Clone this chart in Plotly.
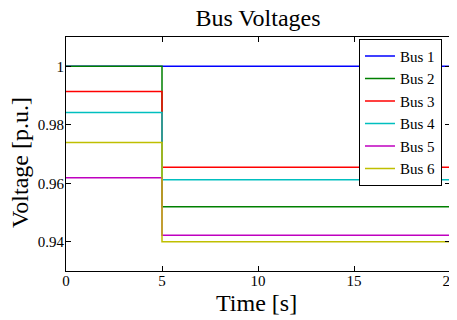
import plotly.graph_objects as go

time = [0, 5, 20]
bus_names = ["Bus 1", "Bus 2", "Bus 3", "Bus 4", "Bus 5", "Bus 6"]
v_before = [1.0, 1.0, 0.9914, 0.9842, 0.9619, 0.9739]
v_after = [1.0, 0.952, 0.9655, 0.9612, 0.9422, 0.940]
colors = ["#0000ff", "#008000", "#ff0000", "#00bfbf", "#bf00bf", "#bfbf00"]

FONT = "Liberation Serif"

fig = go.Figure()
for name, vb, va, c in zip(bus_names, v_before, v_after, colors):
    fig.add_trace(go.Scatter(
        x=time, y=[vb, va, va], mode="lines", name=name,
        line=dict(color=c, width=1.5, shape="hv"),
    ))

axis_common = dict(
    showline=True, linecolor="black", linewidth=1, mirror="ticks",
    ticks="inside", ticklen=5, tickcolor="black", showgrid=False,
    zeroline=False, automargin=False, ticklabeloverflow="allow",
    tickfont=dict(family=FONT, size=15, color="black"),
)
fig.update_layout(
    width=449, height=312,
    margin=dict(l=58, r=7, t=29, b=49),
    paper_bgcolor="white", plot_bgcolor="white",
    title=dict(text="Bus Voltages", x=0.5, xref="paper", xanchor="center",
               y=1 - 10 / 312, yref="container", yanchor="middle",
               font=dict(family=FONT, size=24, color="black")),
    xaxis=dict(range=[0, 20], tickvals=[0, 5, 10, 15, 20], ticklabelstandoff=-4,
               **axis_common),
    yaxis=dict(range=[0.93, 1.01], tickvals=[0.94, 0.96, 0.98, 1.0],
               ticktext=["0.94", "0.96", "0.98", "1"], ticklabelstandoff=-2,
               **axis_common),
    legend=dict(x=0.763, y=0.992, xanchor="left", yanchor="top",
                bgcolor="white", bordercolor="black", borderwidth=1,
                font=dict(family=FONT, size=15, color="black"), itemwidth=30),
    showlegend=True,
    annotations=[
        dict(text="Time [s]", xref="paper", yref="paper", x=0.497, y=-0.137,
             xanchor="center", yanchor="middle", showarrow=False,
             font=dict(family=FONT, size=24, color="black")),
        dict(text="Voltage [p.u.]", xref="paper", yref="paper", x=-0.120, y=0.466,
             xanchor="center", yanchor="middle", showarrow=False, textangle=-90,
             font=dict(family=FONT, size=24, color="black")),
    ],
)
fig.write_html("out.html")
